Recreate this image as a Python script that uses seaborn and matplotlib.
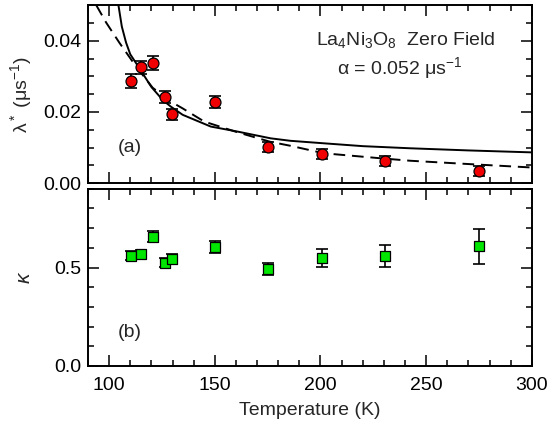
import matplotlib
matplotlib.use("Agg")
import matplotlib.pyplot as plt
from matplotlib.ticker import MultipleLocator
import numpy as np
import pandas as pd
import seaborn as sns

# measured points
temp = [110.5, 115.2, 120.8, 126.3, 129.7, 150.0, 175.0, 200.8, 230.3, 275.0]
lam = [0.0287, 0.0325, 0.0337, 0.0241, 0.0193, 0.0229, 0.0102, 0.0083, 0.0062, 0.0035]
lam_err = [0.0019, 0.0017, 0.0020, 0.0017, 0.0016, 0.0017, 0.0014, 0.0014, 0.0015, 0.0014]
kappa = [0.561, 0.569, 0.657, 0.524, 0.544, 0.606, 0.493, 0.550, 0.559, 0.609]
kappa_err = [0.023, 0.020, 0.029, 0.022, 0.025, 0.031, 0.032, 0.045, 0.056, 0.089]

# fit curves
solid_t = [104.4, 106.0, 108.0, 110.0, 114.3, 120.0, 125.3, 129.2, 134.8, 148.1, 160.7,
           176.4, 185.8, 201.6, 220.0, 242.5, 270.0, 300.0]
solid_l = [0.0500, 0.0440, 0.0395, 0.0362, 0.0323, 0.0270, 0.0234, 0.0215, 0.0192, 0.0159,
           0.0145, 0.0126, 0.0119, 0.0112, 0.0104, 0.0098, 0.0092, 0.00865]
dash_t = [93.9, 98.6, 104.9, 112.7, 120.6, 129.2, 134.8, 145.0, 160.7, 176.4, 185.8,
          201.6, 228.3, 242.5, 269.2, 300.0]
dash_l = [0.0500, 0.0451, 0.0394, 0.0328, 0.0268, 0.0229, 0.0210, 0.0173, 0.0143, 0.0116,
          0.0105, 0.0084, 0.0070, 0.0063, 0.0054, 0.0044]

df = pd.DataFrame({"T": temp, "lam": lam, "lam_err": lam_err, "kappa": kappa, "kappa_err": kappa_err})
solid = pd.DataFrame({"T": solid_t, "lam": solid_l})
dash = pd.DataFrame({"T": dash_t, "lam": dash_l})

sns.set_style("ticks")
plt.rcParams["font.family"] = ["Liberation Sans", "DejaVu Sans"]
plt.rcParams["mathtext.fontset"] = "custom"
plt.rcParams["mathtext.rm"] = "Liberation Sans"
plt.rcParams["mathtext.it"] = "Liberation Sans:italic"

fs = 14

fig = plt.figure(figsize=(5.5, 4.3), dpi=100)
ax1 = fig.add_axes([0.16, 0.574, 0.807, 0.414])
ax2 = fig.add_axes([0.16, 0.149, 0.807, 0.412])

sns.lineplot(data=solid, x="T", y="lam", ax=ax1, color="black", lw=1.4, sort=False)
sns.lineplot(data=dash, x="T", y="lam", ax=ax1, color="black", lw=1.4, sort=False,
             linestyle=(0, (6, 3.5)))
ax1.errorbar(df["T"], df["lam"], yerr=df["lam_err"], fmt="none", ecolor="black",
             elinewidth=1.2, capsize=4.5, capthick=1.2, zorder=3)
sns.scatterplot(data=df, x="T", y="lam", ax=ax1, marker="o", s=62, color="#f00000",
                edgecolor="black", linewidth=0.9, zorder=4)

ax2.errorbar(df["T"], df["kappa"], yerr=df["kappa_err"], fmt="none", ecolor="black",
             elinewidth=1.2, capsize=4.5, capthick=1.2, zorder=3)
sns.scatterplot(data=df, x="T", y="kappa", ax=ax2, marker="s", s=55, color="#00e600",
                edgecolor="black", linewidth=0.9, zorder=4)

for ax in (ax1, ax2):
    ax.set_xlim(90, 300)
    ax.xaxis.set_major_locator(MultipleLocator(50))
    ax.xaxis.set_minor_locator(MultipleLocator(10))
    ax.tick_params(which="both", direction="in", top=True, right=True, width=1.1,
                   labelsize=fs, colors="black")
    ax.tick_params(which="major", length=8)
    ax.tick_params(which="minor", length=4)
    ax.tick_params(axis="y", pad=5)
    ax.tick_params(axis="x", pad=8)
    for s in ax.spines.values():
        s.set_linewidth(1.4)
        s.set_color("black")

ax1.set_ylim(0, 0.05)
ax1.yaxis.set_major_locator(MultipleLocator(0.02))
ax1.yaxis.set_minor_locator(MultipleLocator(0.005))
ax1.yaxis.set_major_formatter(matplotlib.ticker.FormatStrFormatter("%.2f"))
ax1.tick_params(labelbottom=False)
ax1.set_xlabel("")
ax1.set_ylabel(r"λ$^*$ (μs$^{-1}$)", fontsize=fs)

ax2.set_ylim(0, 0.9)
ax2.yaxis.set_major_locator(MultipleLocator(0.5))
ax2.yaxis.set_minor_locator(MultipleLocator(0.1))
ax2.yaxis.set_major_formatter(matplotlib.ticker.FormatStrFormatter("%.1f"))
ax2.set_xlabel("Temperature (K)", fontsize=fs, labelpad=6)
ax2.set_ylabel(r"$\mathit{\kappa}$", fontsize=fs + 1)

ax1.yaxis.set_label_coords(-0.122, 0.5)
ax2.yaxis.set_label_coords(-0.122, 0.5)

ax1.text(0.716, 0.803, r"La$_4$Ni$_3$O$_8$  Zero Field", transform=ax1.transAxes,
         ha="center", va="center", fontsize=fs)
ax1.text(0.703, 0.646, r"α = 0.052 μs$^{-1}$", transform=ax1.transAxes,
         ha="center", va="center", fontsize=fs)
ax1.text(0.095, 0.2, "(a)", transform=ax1.transAxes, ha="center", va="center", fontsize=fs)
ax2.text(0.095, 0.19, "(b)", transform=ax2.transAxes, ha="center", va="center", fontsize=fs)

fig.savefig("out.png", dpi=100)
plt.close(fig)
